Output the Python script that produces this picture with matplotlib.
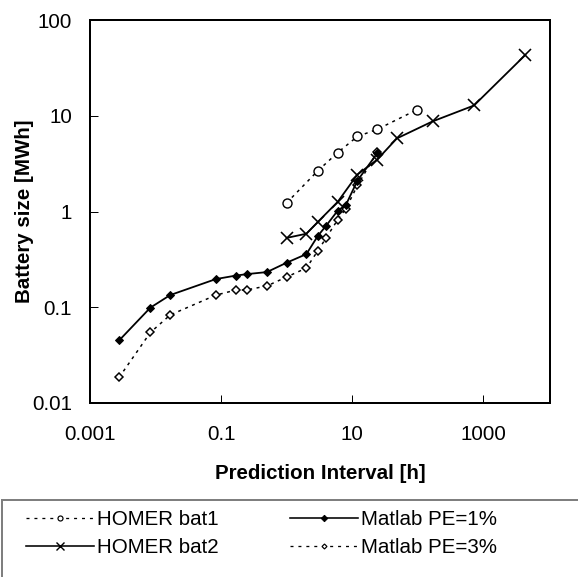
import matplotlib
matplotlib.use("Agg")
import matplotlib.pyplot as plt
from matplotlib.patches import Rectangle
from matplotlib.lines import Line2D

# ---- data (hours / MWh) ----
matlab_x = [0.00278, 0.00833, 0.0167, 0.0833, 0.1667, 0.25, 0.5, 1, 2, 3, 4, 6, 8, 12, 24]
pe1_y = [0.045, 0.099, 0.134, 0.197, 0.214, 0.222, 0.233, 0.292, 0.359, 0.558, 0.71, 1.02, 1.17, 2.1, 4.05]
pe3_y = [0.0185, 0.0545, 0.083, 0.134, 0.151, 0.152, 0.167, 0.207, 0.257, 0.39, 0.53, 0.82, 1.07, 1.87, 4.17]

bat1_x = [1, 3, 6, 12, 24, 96]
bat1_y = [1.23, 2.67, 4.12, 6.08, 7.2, 11.5]

bat2_x = [1, 2, 3, 6, 12, 24, 48, 168, 720, 4380]
bat2_y = [0.53, 0.586, 0.78, 1.26, 2.43, 3.48, 5.8, 8.73, 12.8, 43.2]

x_ticks = [0.001, 0.1, 10, 1000]
x_tick_labels = ["0.001", "0.1", "10", "1000"]
y_ticks = [0.01, 0.1, 1, 10, 100]
y_tick_labels = ["0.01", "0.1", "1", "10", "100"]

plt.rcParams['font.family'] = ['Liberation Sans', 'DejaVu Sans']
FS = 20.5

W, H = 578, 577
fig = plt.figure(figsize=(W / 72, H / 72), dpi=72)
ax = fig.add_axes([90 / W, 1 - 403 / H, 460 / W, 383 / H])

dash = (0, (2, 3))
ax.plot(bat1_x, bat1_y, color='black', lw=1.5, linestyle=dash,
        marker='o', ms=9, mfc='white', mec='black', mew=1.4)
ax.plot(matlab_x, pe3_y, color='black', lw=1.5, linestyle=dash,
        marker='D', ms=5, mfc='white', mec='black', mew=1.5)
ax.plot(matlab_x, pe1_y, color='black', lw=1.8, linestyle='-',
        marker='D', ms=5.8, mfc='black', mec='black', mew=1)
ax.plot(bat2_x, bat2_y, color='black', lw=1.8, linestyle='-',
        marker='x', ms=12, mew=1.6)

ax.set_xscale('log')
ax.set_yscale('log')
ax.set_xlim(0.001, 1.04e4)
ax.set_ylim(0.01, 100)
ax.set_xticks(x_ticks)
ax.set_xticklabels(x_tick_labels)
ax.set_yticks(y_ticks)
ax.set_yticklabels(y_tick_labels)
ax.minorticks_off()
ax.tick_params(axis='x', direction='in', length=8, width=1, labelsize=FS, pad=22)
ax.tick_params(axis='y', direction='in', length=8, width=1, labelsize=FS, pad=18)
for s in ax.spines.values():
    s.set_linewidth(2)

ax.set_xlabel('Prediction Interval [h]', fontsize=FS, fontweight='bold', labelpad=20)
ax.set_ylabel('Battery size [MWh]', fontsize=FS, fontweight='bold', labelpad=-2)

# legend box
fig.patches.append(Rectangle((2 / W, -0.05), 1.1, (H - 500) / H + 0.05,
                             transform=fig.transFigure, facecolor='white',
                             edgecolor='#7f7f7f', lw=2, zorder=0))
leg_dash = (0, (2.3, 3.8))
h_bat1 = Line2D([], [], color='black', lw=1.3, linestyle=leg_dash,
                marker='o', ms=5, mfc='white', mec='black', mew=1.2)
h_bat2 = Line2D([], [], color='black', lw=1.6, marker='x', ms=8, mew=1.4)
h_pe1 = Line2D([], [], color='black', lw=1.6, marker='D', ms=4.5, mfc='black', mec='black')
h_pe3 = Line2D([], [], color='black', lw=1.3, linestyle=leg_dash,
               marker='D', ms=3.5, mfc='white', mec='black', mew=1.2)
leg = fig.legend(handles=[h_bat1, h_bat2, h_pe1, h_pe3],
                 labels=['HOMER bat1', 'HOMER bat2', 'Matlab PE=1%', 'Matlab PE=3%'],
                 ncol=2, loc='upper left', bbox_to_anchor=(26 / W, 1 - 510 / H),
                 frameon=False, fontsize=FS, handlelength=3.3, handletextpad=0.15,
                 columnspacing=3.5, labelspacing=0.45,
                 borderaxespad=0, borderpad=0)

fig.savefig('out.png', dpi=72)
